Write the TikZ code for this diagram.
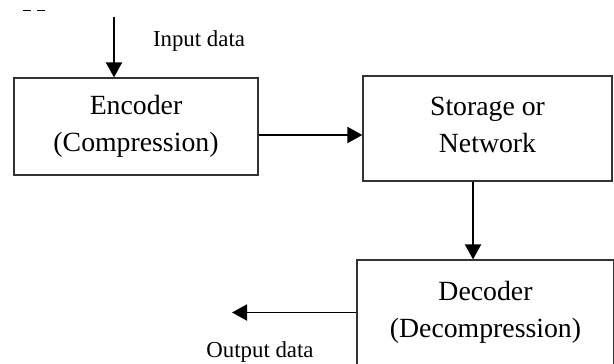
\documentclass[tikz,border=0pt]{standalone}
\usepackage{fontspec}
\setmainfont{Liberation Serif}
\usetikzlibrary{arrows.meta}
\begin{document}
\begin{tikzpicture}
        \tikzstyle{box}=[draw=black!80, line width=0.7pt, align=center, inner sep=0pt, font=\fontsize{15.8}{21}\selectfont]
        \tikzstyle{arr}=[line width=1.1pt, -{Triangle[length=0.3cm,width=0.32cm]}]
        \tikzstyle{lab}=[font=\fontsize{13}{15}\selectfont]

        \useasboundingbox (0,0) rectangle (12.28,7.26);
        \clip (0,0) rectangle (12.28,7.26);

        \node[box, minimum width=4.88cm, minimum height=1.94cm] (enc) at (2.72,4.73) {Encoder\\(Compression)};
        \node[box, minimum width=4.98cm, minimum height=2.10cm] (sto) at (9.75,4.69) {Storage or\\Network\\[-0.58cm]};
        \node[box, minimum width=5.14cm, minimum height=2.10cm] (dec) at (9.71,1.01) {Decoder\\(Decompression)};

        \coordinate (in) at (2.28,6.92);
        \coordinate (out) at (4.64,1.02);

        \draw[arr] (in) -- (in |- enc.north);
        \draw[arr] ([yshift=-0.17cm]enc.east) -- ([yshift=-0.17cm]enc.east -| sto.west);
        \draw[arr] ([xshift=-0.29cm]sto.south) -- ([xshift=-0.29cm]sto.south |- dec.north);
        \draw[arr] (dec.west) -- (dec.west -| out);

        \node[lab] (inlab) at (3.98,6.44) {Input data};
        \node[lab] (outlab) at (5.2,0.23) {Output data};

        % marks at the top
        \draw[line width=0.5pt] (0.46,7.06) -- (0.62,7.06) (0.74,7.06) -- (0.9,7.06);
    \end{tikzpicture}
\end{document}
